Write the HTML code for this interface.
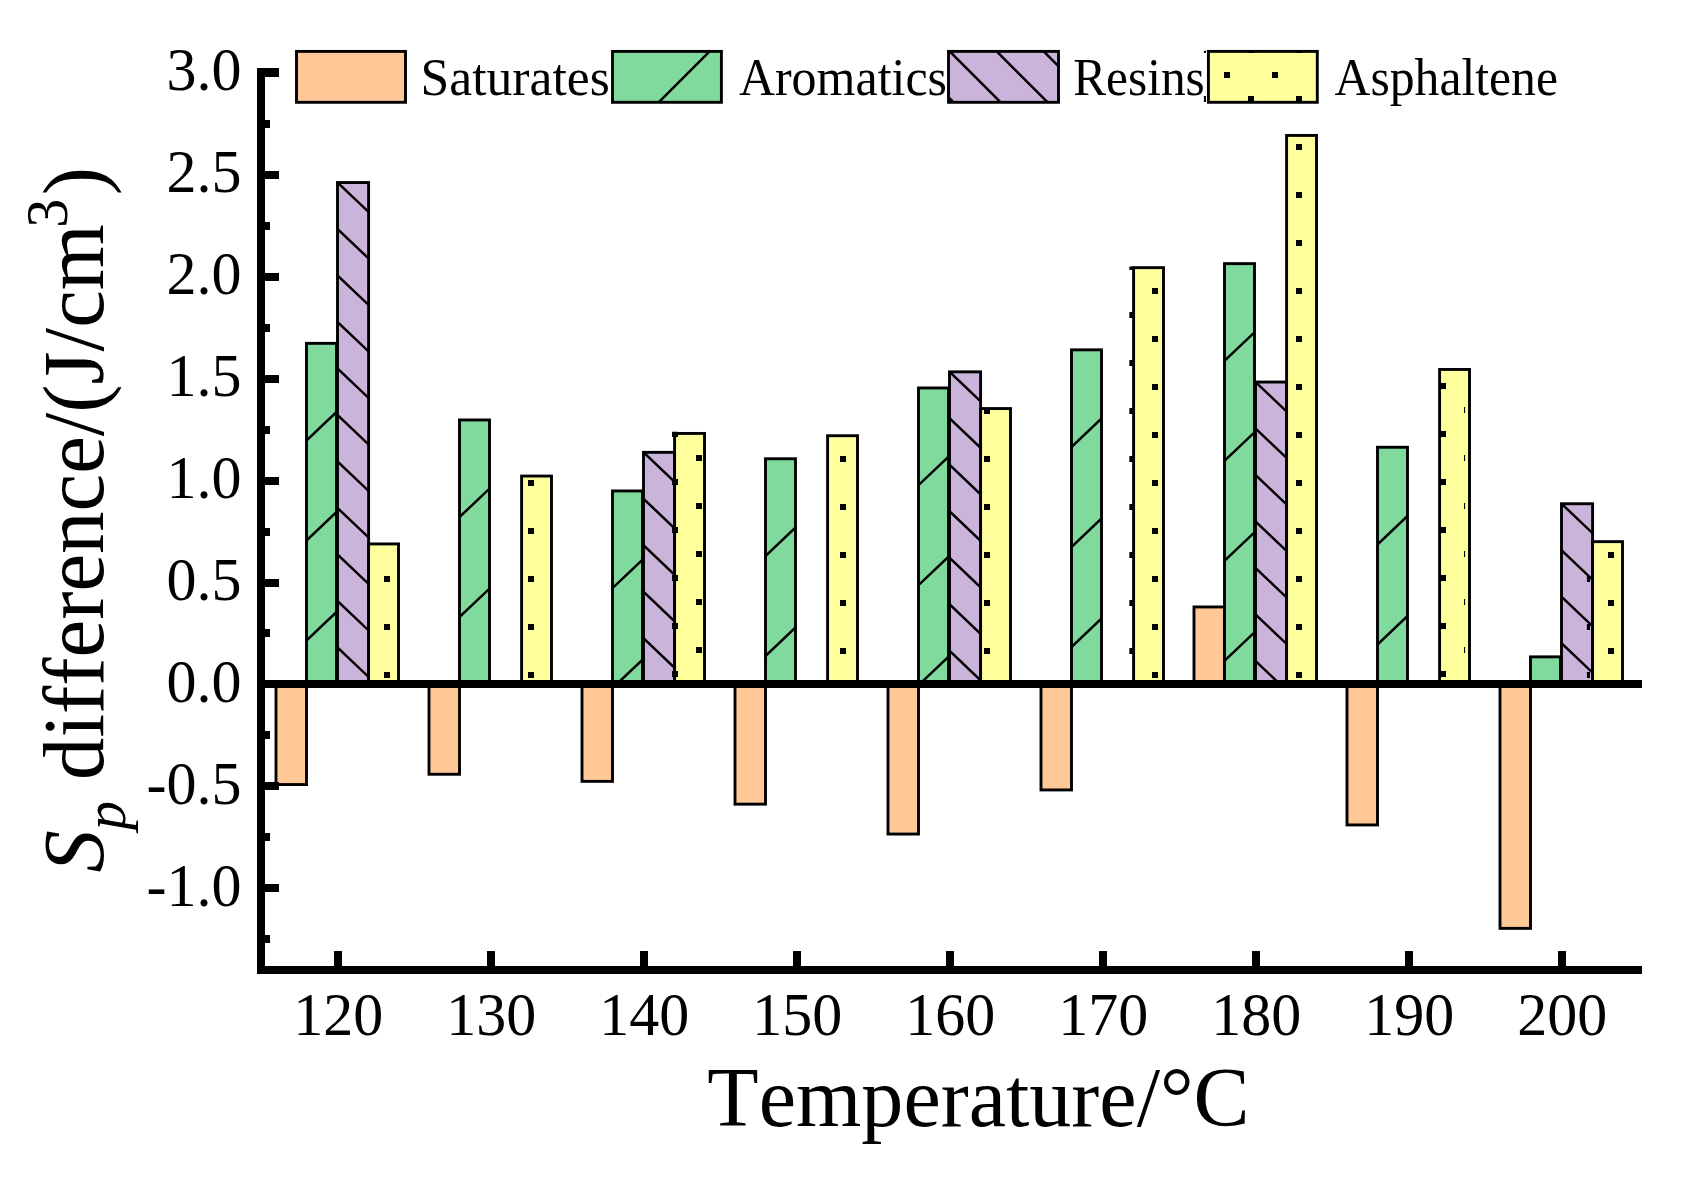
<!DOCTYPE html>
<html lang="en"><head><meta charset="utf-8"><title>Sp difference vs Temperature</title>
<style>html,body{margin:0;padding:0;background:#fff;}body{width:1689px;height:1183px;overflow:hidden;}svg{display:block;}</style></head>
<body>
<svg width="1689" height="1183" viewBox="0 0 1689 1183" font-family="'Liberation Serif', 'Times New Roman', serif" fill="#000" style="font-kerning:none;font-variant-ligatures:none">
<defs><clipPath id="c1"><rect x="306.5" y="343.34" width="30" height="341.06"/></clipPath><clipPath id="c2"><rect x="459.5" y="419.95" width="30" height="264.45"/></clipPath><clipPath id="c3"><rect x="612.5" y="490.95" width="30" height="193.45"/></clipPath><clipPath id="c4"><rect x="765.5" y="458.75" width="30" height="225.65"/></clipPath><clipPath id="c5"><rect x="918.5" y="387.95" width="30" height="296.45"/></clipPath><clipPath id="c6"><rect x="1071.5" y="349.84" width="30" height="334.56"/></clipPath><clipPath id="c7"><rect x="1224.5" y="263.65" width="30" height="420.75"/></clipPath><clipPath id="c8"><rect x="1377.5" y="447.26" width="30" height="237.14"/></clipPath><clipPath id="c9"><rect x="1530.5" y="656.85" width="30" height="27.55"/></clipPath><clipPath id="c10"><rect x="337.5" y="182.54" width="31.1" height="501.86"/></clipPath><clipPath id="c11"><rect x="643.5" y="452.35" width="31.1" height="232.05"/></clipPath><clipPath id="c12"><rect x="949.5" y="371.85" width="31.1" height="312.55"/></clipPath><clipPath id="c13"><rect x="1255.5" y="382.04" width="31.1" height="302.36"/></clipPath><clipPath id="c14"><rect x="1561.5" y="503.75" width="31.1" height="180.65"/></clipPath><clipPath id="c15"><rect x="612.5" y="51.4" width="108.9" height="50.9"/></clipPath><clipPath id="c16"><rect x="948.5" y="51.4" width="110" height="50.9"/></clipPath></defs>
<rect width="1689" height="1183" fill="#fff"/>
<g id="bars"><rect x="276" y="684.4" width="30.5" height="100.15" fill="#FFC896" stroke="#000" stroke-width="2.9"/>
<rect x="429" y="684.4" width="30.5" height="89.86" fill="#FFC896" stroke="#000" stroke-width="2.9"/>
<rect x="582" y="684.4" width="30.5" height="96.95" fill="#FFC896" stroke="#000" stroke-width="2.9"/>
<rect x="735" y="684.4" width="30.5" height="119.75" fill="#FFC896" stroke="#000" stroke-width="2.9"/>
<rect x="888" y="684.4" width="30.5" height="149.65" fill="#FFC896" stroke="#000" stroke-width="2.9"/>
<rect x="1041" y="684.4" width="30.5" height="105.55" fill="#FFC896" stroke="#000" stroke-width="2.9"/>
<rect x="1194" y="606.96" width="30.5" height="77.44" fill="#FFC896" stroke="#000" stroke-width="2.9"/>
<rect x="1347" y="684.4" width="30.5" height="140.54" fill="#FFC896" stroke="#000" stroke-width="2.9"/>
<rect x="1500" y="684.4" width="30.5" height="243.95" fill="#FFC896" stroke="#000" stroke-width="2.9"/>
<rect x="306.5" y="343.34" width="30" height="341.06" fill="#80D99D" stroke="#000" stroke-width="2.9"/><path clip-path="url(#c1)" d="M304.5 442.41L338.5 410.11M304.5 542.41L338.5 510.11M304.5 642.41L338.5 610.11" stroke="#000" stroke-width="2.5" fill="none"/>
<rect x="459.5" y="419.95" width="30" height="264.45" fill="#80D99D" stroke="#000" stroke-width="2.9"/><path clip-path="url(#c2)" d="M457.5 519.02L491.5 486.72M457.5 619.02L491.5 586.72" stroke="#000" stroke-width="2.5" fill="none"/>
<rect x="612.5" y="490.95" width="30" height="193.45" fill="#80D99D" stroke="#000" stroke-width="2.9"/><path clip-path="url(#c3)" d="M610.5 590.03L644.5 557.73M610.5 690.03L644.5 657.73" stroke="#000" stroke-width="2.5" fill="none"/>
<rect x="765.5" y="458.75" width="30" height="225.65" fill="#80D99D" stroke="#000" stroke-width="2.9"/><path clip-path="url(#c4)" d="M763.5 557.83L797.5 525.53M763.5 657.83L797.5 625.53" stroke="#000" stroke-width="2.5" fill="none"/>
<rect x="918.5" y="387.95" width="30" height="296.45" fill="#80D99D" stroke="#000" stroke-width="2.9"/><path clip-path="url(#c5)" d="M916.5 487.03L950.5 454.73M916.5 587.03L950.5 554.73M916.5 687.03L950.5 654.73" stroke="#000" stroke-width="2.5" fill="none"/>
<rect x="1071.5" y="349.84" width="30" height="334.56" fill="#80D99D" stroke="#000" stroke-width="2.9"/><path clip-path="url(#c6)" d="M1069.5 448.91L1103.5 416.61M1069.5 548.91L1103.5 516.61M1069.5 648.91L1103.5 616.61" stroke="#000" stroke-width="2.5" fill="none"/>
<rect x="1224.5" y="263.65" width="30" height="420.75" fill="#80D99D" stroke="#000" stroke-width="2.9"/><path clip-path="url(#c7)" d="M1222.5 362.73L1256.5 330.43M1222.5 462.73L1256.5 430.43M1222.5 562.73L1256.5 530.43M1222.5 662.73L1256.5 630.43" stroke="#000" stroke-width="2.5" fill="none"/>
<rect x="1377.5" y="447.26" width="30" height="237.14" fill="#80D99D" stroke="#000" stroke-width="2.9"/><path clip-path="url(#c8)" d="M1375.5 546.33L1409.5 514.03M1375.5 646.33L1409.5 614.03" stroke="#000" stroke-width="2.5" fill="none"/>
<rect x="1530.5" y="656.85" width="30" height="27.55" fill="#80D99D" stroke="#000" stroke-width="2.9"/>
<rect x="337.5" y="182.54" width="31.1" height="501.86" fill="#CBB4D9" stroke="#000" stroke-width="2.9"/><path clip-path="url(#c10)" d="M335.5 180.57L370.6 213.92M335.5 227.07L370.6 260.42M335.5 273.57L370.6 306.92M335.5 320.07L370.6 353.42M335.5 366.57L370.6 399.92M335.5 413.07L370.6 446.42M335.5 459.57L370.6 492.92M335.5 506.07L370.6 539.42M335.5 552.57L370.6 585.91M335.5 599.07L370.6 632.41M335.5 645.57L370.6 678.91" stroke="#000" stroke-width="2.5" fill="none"/>
<rect x="643.5" y="452.35" width="31.1" height="232.05" fill="#CBB4D9" stroke="#000" stroke-width="2.9"/><path clip-path="url(#c11)" d="M641.5 450.38L676.6 483.73M641.5 496.88L676.6 530.23M641.5 543.38L676.6 576.73M641.5 589.88L676.6 623.23M641.5 636.38L676.6 669.73M641.5 682.88L676.6 716.23" stroke="#000" stroke-width="2.5" fill="none"/>
<rect x="949.5" y="371.85" width="31.1" height="312.55" fill="#CBB4D9" stroke="#000" stroke-width="2.9"/><path clip-path="url(#c12)" d="M947.5 369.88L982.6 403.22M947.5 416.38L982.6 449.72M947.5 462.88L982.6 496.22M947.5 509.38L982.6 542.72M947.5 555.88L982.6 589.22M947.5 602.38L982.6 635.72M947.5 648.88L982.6 682.22" stroke="#000" stroke-width="2.5" fill="none"/>
<rect x="1255.5" y="382.04" width="31.1" height="302.36" fill="#CBB4D9" stroke="#000" stroke-width="2.9"/><path clip-path="url(#c13)" d="M1253.5 380.07L1288.6 413.41M1253.5 426.57L1288.6 459.91M1253.5 473.07L1288.6 506.41M1253.5 519.57L1288.6 552.91M1253.5 566.07L1288.6 599.41M1253.5 612.57L1288.6 645.91M1253.5 659.07L1288.6 692.41" stroke="#000" stroke-width="2.5" fill="none"/>
<rect x="1561.5" y="503.75" width="31.1" height="180.65" fill="#CBB4D9" stroke="#000" stroke-width="2.9"/><path clip-path="url(#c14)" d="M1559.5 501.78L1594.6 535.12M1559.5 548.28L1594.6 581.62M1559.5 594.78L1594.6 628.12M1559.5 641.28L1594.6 674.62" stroke="#000" stroke-width="2.5" fill="none"/>
<rect x="368.6" y="543.94" width="29.9" height="140.46" fill="#FFFF9D" stroke="#000" stroke-width="2.9"/><path d="M384 576H390V582H384ZM384 624H390V630H384ZM384 672H390V678H384Z" fill="#000"/>
<rect x="521.6" y="476.06" width="29.9" height="208.34" fill="#FFFF9D" stroke="#000" stroke-width="2.9"/><path d="M528 480H534V486H528ZM528 528H534V534H528ZM528 576H534V582H528ZM528 624H534V630H528ZM528 672H534V678H528Z" fill="#000"/>
<rect x="674.6" y="433.44" width="29.9" height="250.96" fill="#FFFF9D" stroke="#000" stroke-width="2.9"/><path d="M672 431.67H678V437H672ZM672 479H678V485H672ZM672 527H678V533H672ZM672 575H678V581H672ZM672 623H678V629H672ZM672 671H678V677H672ZM696 455H702V461H696ZM696 503H702V509H696ZM696 551H702V557H696ZM696 599H702V605H696ZM696 647H702V653H696Z" fill="#000"/>
<rect x="827.6" y="435.74" width="29.9" height="248.66" fill="#FFFF9D" stroke="#000" stroke-width="2.9"/><path d="M840 456H846V462H840ZM840 504H846V510H840ZM840 552H846V558H840ZM840 600H846V606H840ZM840 648H846V654H840Z" fill="#000"/>
<rect x="980.6" y="408.56" width="29.9" height="275.84" fill="#FFFF9D" stroke="#000" stroke-width="2.9"/><path d="M984 408H990V414H984ZM984 456H990V462H984ZM984 504H990V510H984ZM984 552H990V558H984ZM984 600H990V606H984ZM984 648H990V654H984Z" fill="#000"/>
<rect x="1133.6" y="267.65" width="29.9" height="416.75" fill="#FFFF9D" stroke="#000" stroke-width="2.9"/><path d="M1152 288H1158V294H1152ZM1152 336H1158V342H1152ZM1152 384H1158V390H1152ZM1152 432H1158V438H1152ZM1152 480H1158V486H1152ZM1152 528H1158V534H1152ZM1152 576H1158V582H1152ZM1152 624H1158V630H1152ZM1152 672H1158V678H1152ZM1129.36 266.41H1134V270H1129.36ZM1129.36 312H1134V318H1129.36ZM1129.36 360H1134V366H1129.36ZM1129.36 408H1134V414H1129.36ZM1129.36 456H1134V462H1129.36ZM1129.36 504H1134V510H1129.36ZM1129.36 552H1134V558H1129.36ZM1129.36 600H1134V606H1129.36ZM1129.36 648H1134V654H1129.36Z" fill="#000"/>
<rect x="1286.6" y="135.44" width="29.9" height="548.96" fill="#FFFF9D" stroke="#000" stroke-width="2.9"/><path d="M1296 144H1302V150H1296ZM1296 192H1302V198H1296ZM1296 240H1302V246H1296ZM1296 288H1302V294H1296ZM1296 336H1302V342H1296ZM1296 384H1302V390H1296ZM1296 432H1302V438H1296ZM1296 480H1302V486H1296ZM1296 528H1302V534H1296ZM1296 576H1302V582H1296ZM1296 624H1302V630H1296ZM1296 672H1302V678H1296Z" fill="#000"/>
<rect x="1439.6" y="369.45" width="29.9" height="314.95" fill="#FFFF9D" stroke="#000" stroke-width="2.9"/><path d="M1440 383H1446V389H1440ZM1440 431H1446V437H1440ZM1440 479H1446V485H1440ZM1440 527H1446V533H1440ZM1440 575H1446V581H1440ZM1440 623H1446V629H1440ZM1440 671H1446V677H1440ZM1464 407H1465.08V413H1464ZM1464 455H1465.08V461H1464ZM1464 503H1465.08V509H1464ZM1464 551H1465.08V557H1464ZM1464 599H1465.08V605H1464ZM1464 647H1465.08V653H1464Z" fill="#000"/>
<rect x="1592.6" y="541.66" width="29.9" height="142.74" fill="#FFFF9D" stroke="#000" stroke-width="2.9"/><path d="M1586.89 576H1590V582H1586.89ZM1586.89 624H1590V630H1586.89ZM1586.89 672H1590V678H1586.89ZM1608 552H1614V558H1608ZM1608 600H1614V606H1608ZM1608 648H1614V654H1608Z" fill="#000"/></g>
<g id="legend"><rect x="296.5" y="51.4" width="109" height="50.9" fill="#FFC896" stroke="#000" stroke-width="2.9"/>
<text transform="translate(420.6 94.6) scale(0.993 1)" font-size="52">Saturates</text>
<rect x="612.5" y="51.4" width="108.9" height="50.9" fill="#80D99D" stroke="#000" stroke-width="2.9"/><path clip-path="url(#c15)" d="M610.5 150.5L723.4 37.6" stroke="#000" stroke-width="2.5" fill="none"/>
<text transform="translate(738.9 94.6) scale(0.961 1)" font-size="52">Aromatics</text>
<rect x="948.5" y="51.4" width="110" height="50.9" fill="#CBB4D9" stroke="#000" stroke-width="2.9"/><path clip-path="url(#c16)" d="M946.5 -45.8L1060.5 68.2M946.5 1.2L1060.5 115.2M946.5 48.2L1060.5 162.2M946.5 95.2L1060.5 209.2" stroke="#000" stroke-width="2.5" fill="none"/>
<text transform="translate(1073.2 94.6) scale(0.949 1)" font-size="52">Resins</text>
<rect x="1208.4" y="51.4" width="108.9" height="50.9" fill="#FFFF9D" stroke="#000" stroke-width="2.9"/><path d="M1203.92 50.85H1206V53H1203.92ZM1203.92 96H1206V102H1203.92ZM1248 50.85H1254V53H1248ZM1248 96H1254V102H1248ZM1296 50.85H1302V53H1296ZM1296 96H1302V102H1296ZM1224 72H1230V78H1224ZM1272 72H1278V78H1272Z" fill="#000"/>
<text transform="translate(1334.6 94.6) scale(0.955 1)" font-size="52">Asphaltene</text></g>
<g id="axes" shape-rendering="crispEdges"><rect x="257" y="68.2" width="8" height="905.8"/><rect x="257" y="966" width="1385" height="8"/><rect x="261" y="680" width="1381" height="8"/><rect x="264.5" y="935.15" width="5.7" height="8"/><rect x="264.5" y="884.2" width="14.5" height="8"/><rect x="264.5" y="833.25" width="5.7" height="8"/><rect x="264.5" y="782.3" width="14.5" height="8"/><rect x="264.5" y="731.35" width="5.7" height="8"/><rect x="264.5" y="680.4" width="14.5" height="8"/><rect x="264.5" y="629.45" width="5.7" height="8"/><rect x="264.5" y="578.5" width="14.5" height="8"/><rect x="264.5" y="527.55" width="5.7" height="8"/><rect x="264.5" y="476.6" width="14.5" height="8"/><rect x="264.5" y="425.65" width="5.7" height="8"/><rect x="264.5" y="374.7" width="14.5" height="8"/><rect x="264.5" y="323.75" width="5.7" height="8"/><rect x="264.5" y="272.8" width="14.5" height="8"/><rect x="264.5" y="221.85" width="5.7" height="8"/><rect x="264.5" y="170.9" width="14.5" height="8"/><rect x="264.5" y="119.95" width="5.7" height="8"/><rect x="264.5" y="68.2" width="14.5" height="8.8"/><rect x="334" y="951" width="8" height="15.5"/><rect x="487" y="951" width="8" height="15.5"/><rect x="640" y="951" width="8" height="15.5"/><rect x="793" y="951" width="8" height="15.5"/><rect x="946" y="951" width="8" height="15.5"/><rect x="1099" y="951" width="8" height="15.5"/><rect x="1252" y="951" width="8" height="15.5"/><rect x="1405" y="951" width="8" height="15.5"/><rect x="1558" y="951" width="8" height="15.5"/></g>
<g id="labels"><text transform="translate(241.4 905.5) scale(1 1.03)" font-size="60" text-anchor="end">-1.0</text>
<text transform="translate(241.4 803.6) scale(1 1.03)" font-size="60" text-anchor="end">-0.5</text>
<text transform="translate(241.4 701.7) scale(1 1.03)" font-size="60" text-anchor="end">0.0</text>
<text transform="translate(241.4 599.8) scale(1 1.03)" font-size="60" text-anchor="end">0.5</text>
<text transform="translate(241.4 497.9) scale(1 1.03)" font-size="60" text-anchor="end">1.0</text>
<text transform="translate(241.4 396) scale(1 1.03)" font-size="60" text-anchor="end">1.5</text>
<text transform="translate(241.4 294.1) scale(1 1.03)" font-size="60" text-anchor="end">2.0</text>
<text transform="translate(241.4 192.2) scale(1 1.03)" font-size="60" text-anchor="end">2.5</text>
<text transform="translate(241.4 90.3) scale(1 1.03)" font-size="60" text-anchor="end">3.0</text>
<text transform="translate(338.2 1035.2) scale(1 1.03)" font-size="60" text-anchor="middle">120</text>
<text transform="translate(491.2 1035.2) scale(1 1.03)" font-size="60" text-anchor="middle">130</text>
<text transform="translate(644.2 1035.2) scale(1 1.03)" font-size="60" text-anchor="middle">140</text>
<text transform="translate(797.2 1035.2) scale(1 1.03)" font-size="60" text-anchor="middle">150</text>
<text transform="translate(950.2 1035.2) scale(1 1.03)" font-size="60" text-anchor="middle">160</text>
<text transform="translate(1103.2 1035.2) scale(1 1.03)" font-size="60" text-anchor="middle">170</text>
<text transform="translate(1256.2 1035.2) scale(1 1.03)" font-size="60" text-anchor="middle">180</text>
<text transform="translate(1409.2 1035.2) scale(1 1.03)" font-size="60" text-anchor="middle">190</text>
<text transform="translate(1562.2 1035.2) scale(1 1.03)" font-size="60" text-anchor="middle">200</text>
<text transform="translate(978.5 1126.3) scale(0.9855 1)" font-size="85.3" text-anchor="middle">Temperature/°C</text>
<text transform="translate(102.7 872.5) rotate(-90) scale(0.975 1)" font-size="87"><tspan font-style="italic">S</tspan><tspan font-style="italic" font-size="59.5" dy="22">p</tspan><tspan dy="-22"> difference/(J/cm</tspan><tspan font-size="59.5" dy="-35.5" dx="-3.5">3</tspan><tspan dy="35.5" dx="3.5">)</tspan></text></g>
</svg>
</body></html>
